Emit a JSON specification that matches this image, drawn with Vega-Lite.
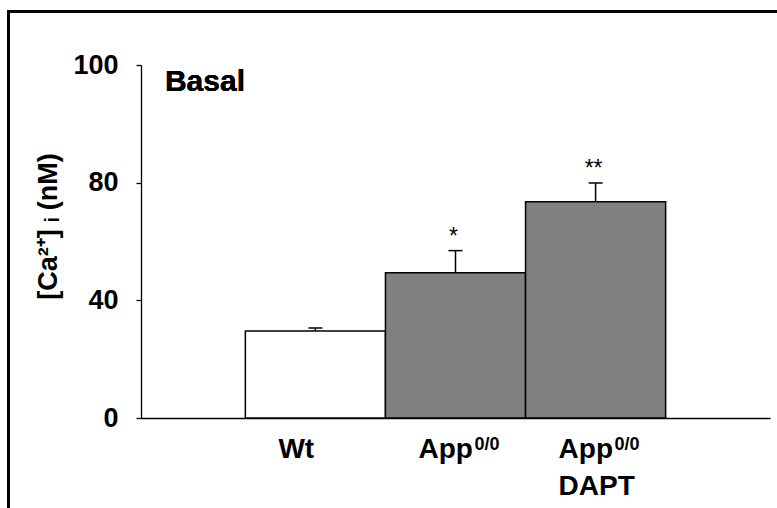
{
  "$schema": "https://vega.github.io/schema/vega-lite/v6.json",
  "width": 629,
  "height": 353,
  "autosize": {"type": "none"},
  "padding": {"left": 141, "top": 65, "right": 7, "bottom": 90},
  "background": "white",
  "config": {"view": {"stroke": null}, "font": "Liberation Sans", "legend": {"strokeWidth": 3}},
  "data": {
    "values": [
      {"group": "Wt", "value": 29.6, "upper": 30.6, "sig": "", "lab1": "Wt", "sup": "", "lab2": ""},
      {"group": "App0/0", "value": 49.4, "upper": 56.9, "sig": "*", "lab1": "App", "sup": "0/0", "lab2": ""},
      {"group": "App0/0 DAPT", "value": 73.5, "upper": 79.9, "sig": "**", "lab1": "App", "sup": "0/0", "lab2": "DAPT"}
    ]
  },
  "encoding": {
    "x": {
      "field": "group",
      "type": "nominal",
      "sort": null,
      "scale": {"paddingInner": 0, "paddingOuter": 0.745},
      "axis": {"title": null, "labels": false, "ticks": false, "domainColor": "black", "domainWidth": 1.3}
    }
  },
  "layer": [
    {
      "mark": {"type": "bar", "stroke": "black", "strokeWidth": 1.5},
      "encoding": {
        "y": {
          "field": "value",
          "type": "quantitative",
          "scale": {"domain": [0, 120], "nice": false},
          "axis": {
            "title": "[Ca²⁺] ᵢ (nM)",
            "values": [0, 40, 80, 120],
            "labelExpr": "datum.value == 120 ? '100' : datum.label",
            "grid": false,
            "tickSize": 5,
            "tickColor": "black",
            "tickWidth": 1.3,
            "domainColor": "black",
            "domainWidth": 1.3,
            "labelFont": "Liberation Sans",
            "labelFontSize": 27,
            "labelFontWeight": "bold",
            "labelColor": "black",
            "labelPadding": 18,
            "labelFlush": false,
            "labelOverlap": false,
            "titleFont": "Liberation Sans",
            "titleFontSize": 27,
            "titleFontWeight": "bold",
            "titleColor": "black",
            "titleX": -85,
            "titleY": 161,
            "titleAngle": -90,
            "titleAlign": "center",
            "titleBaseline": "alphabetic",
            "encode": {"labels": {"update": {"dy": {"signal": "datum.value === 0 ? -8 : datum.value === 120 ? 4 : 0"}}}}
          }
        },
        "fill": {
          "field": "group",
          "type": "nominal",
          "sort": null,
          "scale": {"domain": ["Wt", "App0/0", "App0/0 DAPT"], "range": ["#ffffff", "#808080", "#808080"]},
          "legend": {
            "orient": "none",
            "legendX": -132.5,
            "legendY": -53.5,
            "padding": 400,
            "strokeColor": "black",
            "title": null,
            "labelOpacity": 0,
            "symbolOpacity": 0,
            "labelFontSize": 1,
            "symbolSize": 1,
            "symbolStrokeWidth": 0
          }
        }
      }
    },
    {
      "mark": {"type": "rule", "stroke": "black", "strokeWidth": 1.5},
      "encoding": {
        "y": {"field": "value", "type": "quantitative"},
        "y2": {"field": "upper"}
      }
    },
    {
      "mark": {"type": "tick", "color": "black", "opacity": 1, "size": 14, "thickness": 1.5},
      "encoding": {"y": {"field": "upper", "type": "quantitative"}}
    },
    {
      "mark": {"type": "text", "align": "center", "baseline": "alphabetic", "dx": -2, "dy": -7, "fontSize": 23, "font": "Liberation Sans", "color": "black"},
      "encoding": {"y": {"field": "upper", "type": "quantitative"}, "text": {"field": "sig"}}
    },
    {
      "mark": {"type": "text", "align": "left", "baseline": "alphabetic", "dx": -37, "dy": 40, "fontSize": 28, "fontWeight": "bold", "font": "Liberation Sans", "color": "black"},
      "encoding": {"y": {"datum": 0, "type": "quantitative"}, "text": {"field": "lab1"}}
    },
    {
      "mark": {"type": "text", "align": "left", "baseline": "alphabetic", "dx": 19, "dy": 32, "fontSize": 18, "fontWeight": "bold", "font": "Liberation Sans", "color": "black"},
      "encoding": {"y": {"datum": 0, "type": "quantitative"}, "text": {"field": "sup"}}
    },
    {
      "mark": {"type": "text", "align": "left", "baseline": "alphabetic", "dx": -37, "dy": 77, "fontSize": 28, "fontWeight": "bold", "font": "Liberation Sans", "color": "black"},
      "encoding": {"y": {"datum": 0, "type": "quantitative"}, "text": {"field": "lab2"}}
    },
    {
      "mark": {"type": "text", "align": "left", "baseline": "alphabetic", "dx": -150.5, "dy": 26, "fontSize": 30, "fontWeight": "bold", "font": "Liberation Sans", "color": "black"},
      "encoding": {"x": {"datum": "Wt"}, "y": {"datum": 120, "type": "quantitative"}, "text": {"value": "Basal"}}
    }
  ]
}
